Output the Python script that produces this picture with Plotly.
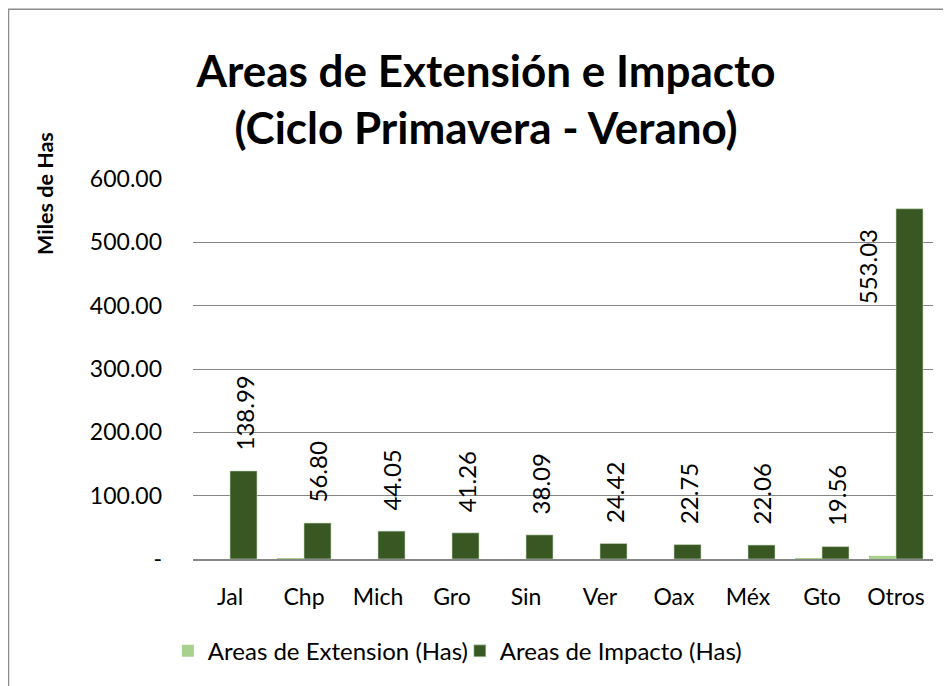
import plotly.graph_objects as go

categories = ["Jal", "Chp", "Mich", "Gro", "Sin", "Ver", "Oax", "Méx", "Gto", "Otros"]
extension = [0.0, 1.5, 0.0, 0.0, 0.0, 0.0, 0.0, 0.0, 1.0, 5.0]
impacto = [138.99, 56.80, 44.05, 41.26, 38.09, 24.42, 22.75, 22.06, 19.56, 553.03]
tick_vals = [0, 100, 200, 300, 400, 500, 600]
tick_text = ["-", "100.00", "200.00", "300.00", "400.00", "500.00", "600.00"]

FONT = "Lato"
LIGHT = "#A9D18E"
DARK = "#385723"

# page has an 8px body margin: figure coords = screen coords - 8
OFF = 8
W, H = 951 - OFF, 686 - OFF
L, R, T, B = 193 - OFF, 18, 179 - OFF, 124
pw = W - L - R
ph = H - T - B

fig = go.Figure()
fig.add_trace(go.Bar(x=categories, y=extension, name="Areas de Extension (Has)",
                     marker=dict(color=LIGHT, line=dict(width=0))))
fig.add_trace(go.Bar(x=categories, y=impacto, name="Areas de Impacto (Has)",
                     marker=dict(color=DARK, line=dict(width=1, color="rgba(200,220,190,0.6)"))))

ymax = 600
for c, v in zip(categories, impacto):
    fits = v < ymax * 0.8
    fig.add_annotation(
        x=c, y=v, xref="x", yref="y",
        text=f"{v:.2f}", textangle=-90, showarrow=False,
        font=dict(family=FONT, size=24, color="#000"),
        xanchor="center",
        yanchor="bottom" if fits else "top",
        xshift=14 if fits else -29,
        yshift=18 if fits else -19,
    )

fig.add_annotation(
    x=(45 - 193) / pw, y=(562 - 194) / ph, xref="paper", yref="paper",
    text="<b>Miles de Has</b>", textangle=-90, showarrow=False,
    xanchor="center", yanchor="middle",
    font=dict(family=FONT, size=21.5, color="#000"),
)

fig.add_shape(type="rect", xref="paper", yref="paper",
              x0=(OFF + 0.5 - 193) / pw, x1=1.2, y0=-0.5, y1=(562 - 8) / ph,
              line=dict(color="#8c8c8c", width=1.5), fillcolor="rgba(0,0,0,0)", layer="below")

fig.update_layout(
    width=W, height=H,
    margin=dict(l=L, r=R, t=T, b=B),
    paper_bgcolor="white", plot_bgcolor="white",
    barmode="group", bargap=0.27, bargroupgap=0,
    title=dict(text="<b>Areas de Extensión e Impacto<br>(Ciclo Primavera - Verano)</b>",
               x=(486 - 193) / pw, xref="paper", xanchor="center",
               y=1 - (87 - OFF) / H, yanchor="middle",
               font=dict(family=FONT, size=44, color="#000")),
    font=dict(family=FONT, size=23, color="#000"),
    showlegend=True,
    legend=dict(orientation="h", x=-0.034, y=-(655 - 562) / ph, xanchor="left", yanchor="middle",
                font=dict(family=FONT, size=24, color="#000"),
                itemwidth=30, entrywidth=247, traceorder="normal"),
    xaxis=dict(showline=True, linecolor="#868686", linewidth=1.5, ticks="",
               ticklabelstandoff=17,
               tickfont=dict(family=FONT, size=23), fixedrange=True),
    yaxis=dict(range=[0, ymax], tickvals=tick_vals, ticktext=tick_text,
               showgrid=True, gridcolor="#868686", gridwidth=1, zeroline=False,
               showline=False, ticks="", ticklabelstandoff=30,
               tickfont=dict(family=FONT, size=23)),
)

fig.write_html("out.html")
